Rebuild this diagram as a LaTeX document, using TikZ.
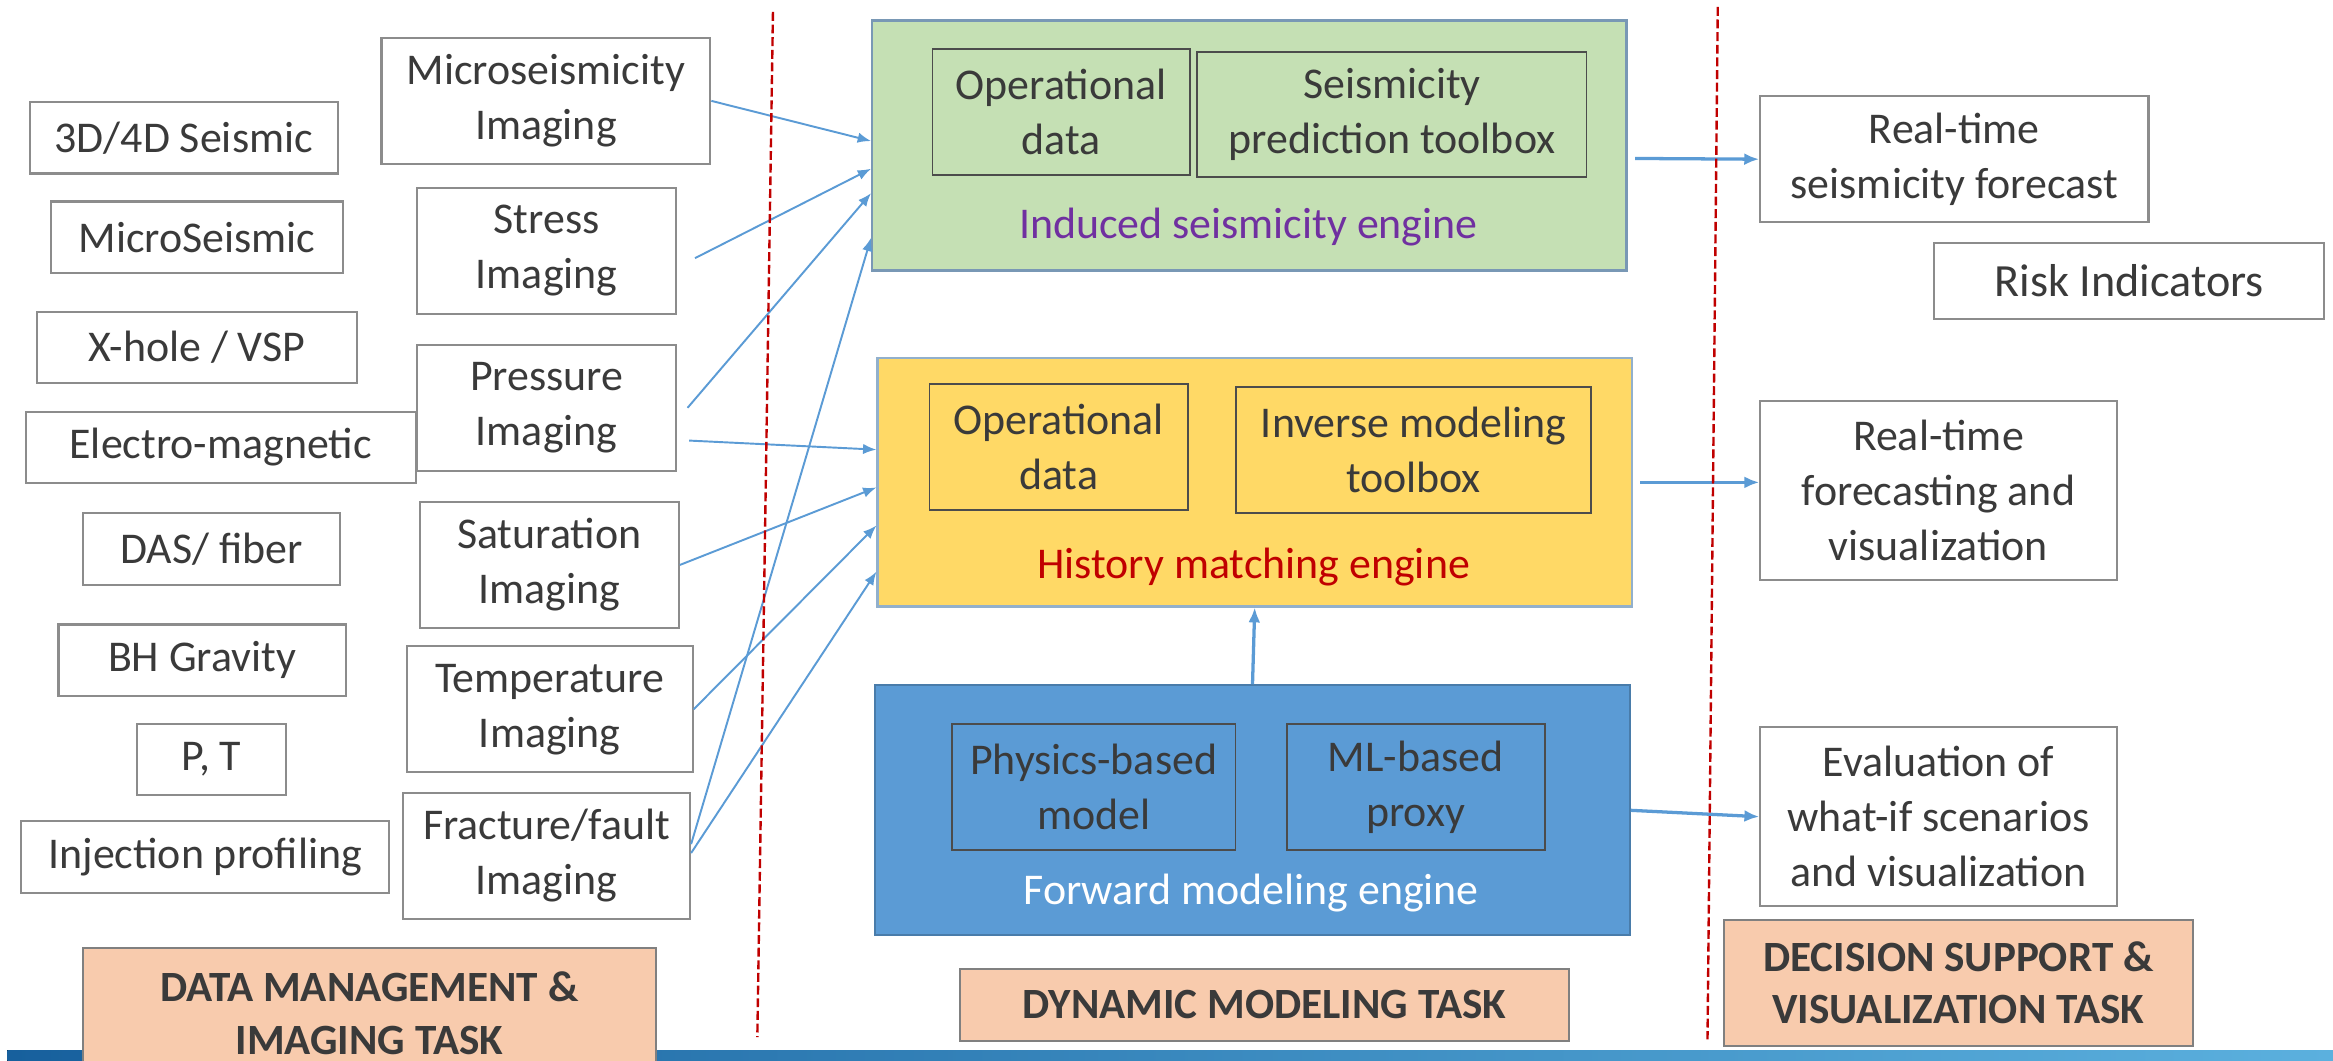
\documentclass[tikz,border=0pt]{standalone}
\usepackage{fontspec}
\setmainfont{Carlito}
\usetikzlibrary{positioning,arrows.meta}

\definecolor{txtgray}{HTML}{3A3A3A}
\definecolor{engreen}{HTML}{C5E0B4}
\definecolor{enyellow}{HTML}{FFD966}
\definecolor{enblue}{HTML}{5B9BD5}
\definecolor{peach}{HTML}{F8CBAD}
\definecolor{flowblue}{HTML}{5B9BD5}
\definecolor{darkred}{HTML}{C00000}
\definecolor{purple}{HTML}{7030A0}
\definecolor{barleft}{HTML}{17609D}
\definecolor{barright}{HTML}{5BB0DE}

\begin{document}
\begin{tikzpicture}[x=1pt,y=-1pt,
  databox/.style={rectangle, draw=black!45, line width=1.4pt, fill=white, text=txtgray, inner sep=0pt,
    align=center, font=\fontsize{29.5}{37}\selectfont, minimum height=48pt},
  imgbox/.style={databox, minimum height=84.5pt},
  engine/.style={rectangle, line width=1.5pt, inner sep=0pt, minimum width=507pt, minimum height=168pt},
  subbox/.style={rectangle, draw=black!70, line width=1.3pt, text=txtgray, inner sep=0pt, align=center,
    font=\fontsize{29.5}{37}\selectfont, minimum height=84.5pt},
  englabel/.style={inner sep=0pt, font=\fontsize{29.5}{37}\selectfont},
  taskbox/.style={rectangle, draw=black!50, line width=1.4pt, fill=peach, text=txtgray, inner sep=0pt,
    align=center, font=\bfseries\fontsize{29}{35}\selectfont},
  feed/.style={-{Latex[length=9pt,width=7pt]}, draw=flowblue, line width=1.3pt},
  result/.style={-{Latex[length=10pt,width=8pt]}, draw=flowblue, line width=2.2pt},
  divider/.style={draw=darkred, line width=1.6pt, dash pattern=on 6pt off 2.5pt},
]
\useasboundingbox (0,0) rectangle (1568,713);

\fill[left color=barleft, right color=barright] (5,706) rectangle (1568,716);

\node(seis3d) [databox,minimum width=207pt] at (123.5,92.6) {3D/4D Seismic};
\node(microseis) [databox,minimum width=196pt] at (132.4,159.4) {MicroSeismic};
\node(xhole) [databox,minimum width=215pt] at (132.4,233.5) {X-hole / VSP};
\node(emag) [databox,minimum width=262pt] at (148.3,300.7) {Electro-magnetic};
\node(das) [databox,minimum width=173pt] at (142.3,369) {DAS/ fiber};
\node(bhgrav) [databox,minimum width=193pt] at (135.8,443.7) {BH Gravity};
\node(pt) [databox,minimum width=100pt] at (142.2,510.3) {P, T};
\node(injprof) [databox,minimum width=247pt] at (137.9,575.9) {Injection profiling};

\node(imgmicro) [imgbox,minimum width=221pt] at (366.9,67.8) {Microseismicity\\Imaging};
\node(imgstress) [imgbox,minimum width=174pt] at (367.4,168.5) {Stress\\Imaging};
\node(imgpress) [imgbox,minimum width=174pt] at (367.4,274.1) {Pressure\\Imaging};
\node(imgsat) [imgbox,minimum width=174pt] at (369.2,379.7) {Saturation\\Imaging};
\node(imgtemp) [imgbox,minimum width=192pt] at (369.5,476.7) {Temperature\\Imaging};
\node(imgfrac) [imgbox,minimum width=193pt] at (367.3,575.3) {Fracture/fault\\Imaging};

\node(induced) [engine,draw=flowblue!70!black!70,fill=engreen] at (839.7,97.8) {};
\node(opdataA) [subbox,minimum width=173pt] at (713.2,75.4) {Operational\\data};
\node(seistool) [subbox,minimum width=261.5pt] at (935.5,77) {Seismicity\\prediction toolbox};
\node(inducedlbl) [englabel,text=purple] at (839,152.8) {Induced seismicity engine};

\node(history) [engine,draw=flowblue!80!black!60,fill=enyellow,minimum height=166.7pt] at (843.3,324.2) {};
\node(opdataB) [subbox,minimum width=173.6pt] at (711.5,300.4) {Operational\\data};
\node(invtool) [subbox,minimum width=239pt] at (950,302.3) {Inverse modeling\\toolbox};
\node(historylbl) [englabel,text=darkred] at (842.6,380.8) {History matching engine};

\node(forward) [engine,draw=enblue!80!black,fill=enblue] at (841.8,544.6) {};
\node(physmodel) [subbox,minimum width=190.7pt] at (735,529.1) {Physics-based\\model};
\node(mlproxy) [subbox,minimum width=173.6pt] at (951.5,529.1) {ML-based\\proxy};
\node(forwardlbl) [englabel,text=white] at (841,600) {Forward modeling engine};

\node(rtseis) [databox,minimum width=261pt,minimum height=84.5pt] at (1313.5,107) {Real-time\\seismicity forecast};
\node(risk) [databox,minimum width=262pt,minimum height=51pt,font=\fontsize{31}{37}\selectfont] at (1431,188.7) {Risk Indicators};
\node(rtfore) [databox,minimum width=239.4pt,minimum height=120.4pt] at (1302.8,329.9) {Real-time\\forecasting and\\visualization};
\node(whatif) [databox,minimum width=239.4pt,minimum height=120.6pt] at (1302.8,548.9) {Evaluation of\\what-if scenarios\\and visualization};

\node(taskdata) [taskbox,minimum width=384.7pt,minimum height=88pt] at (248.3,681) {DATA MANAGEMENT \&\\IMAGING TASK};
\node(taskdyn) [taskbox,minimum width=409pt,minimum height=48.7pt] at (849.8,675.4) {DYNAMIC MODELING TASK};
\node(taskdec) [taskbox,minimum width=315pt,minimum height=84.6pt] at (1316.2,660.8) {DECISION SUPPORT \&\\VISUALIZATION TASK};

\draw[feed] (imgmicro.east) -- ([yshift=3pt]induced.west);
\draw[feed] ([xshift=12pt,yshift=-5pt]imgstress.east) -- ([yshift=-15.6pt]induced.west);
\draw[feed] ([xshift=7pt]imgpress.east) -- ([yshift=-32pt]induced.west);
\draw[feed] ([yshift=8pt]imgfrac.east) -- ([yshift=-62pt]induced.west);
\draw[feed] ([xshift=8pt,yshift=-22pt]imgpress.east) -- ([yshift=22pt]history.west);
\draw[feed] (imgsat.east) -- ([yshift=-3.4pt]history.west);
\draw[feed] (imgtemp.east) -- ([yshift=-29pt]history.west);
\draw[feed] ([yshift=2pt]imgfrac.east) -- ([yshift=-60pt]history.west);

\draw[result] ([xshift=5pt,yshift=-8.7pt]induced.east) -- (rtseis.west);
\draw[result] ([xshift=5pt]history.east) -- (rtfore.west |- history.east);
\draw[result] (forward.east) -- (whatif.west);
\draw[result] (forward.north) -- (history.south);

\draw[divider] (519.5,8) -- (509,697);
\draw[divider] (1154.5,4.6) -- (1147.6,698.5);

\end{tikzpicture}
\end{document}
